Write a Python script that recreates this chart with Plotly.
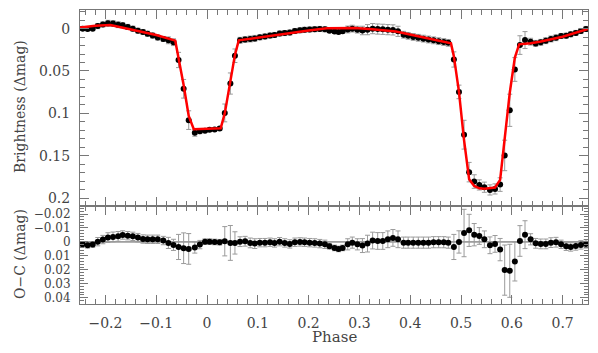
import plotly.graph_objects as go

# ---- data ----
phase = [-0.245, -0.235, -0.225, -0.215, -0.205, -0.195, -0.185, -0.175, -0.166, -0.156,
         -0.146, -0.136, -0.126, -0.117, -0.107, -0.097, -0.086, -0.076, -0.066, -0.056,
         -0.046, -0.036, -0.024, -0.014, -0.004, 0.005, 0.015, 0.025, 0.035, 0.046,
         0.055, 0.065, 0.075, 0.085, 0.094, 0.104, 0.114, 0.124, 0.133, 0.143,
         0.153, 0.163, 0.173, 0.183, 0.192, 0.202, 0.212, 0.222, 0.232, 0.241,
         0.251, 0.259, 0.267, 0.277, 0.286, 0.296, 0.306, 0.316, 0.326, 0.336,
         0.346, 0.356, 0.366, 0.376, 0.387, 0.396, 0.406, 0.416, 0.426, 0.436,
         0.446, 0.456, 0.466, 0.475, 0.486, 0.496, 0.506, 0.516, 0.526, 0.536,
         0.546, 0.557, 0.567, 0.577, 0.586, 0.596, 0.606, 0.616, 0.626, 0.637,
         0.647, 0.657, 0.667, 0.677, 0.687, 0.697, 0.707, 0.716, 0.726, 0.736, 0.746]

brightness = [0.0, 0.0004, 0.0, -0.003, -0.005, -0.0063, -0.006, -0.0047, -0.004, -0.002,
              0.0, 0.0024, 0.004, 0.006, 0.0082, 0.0105, 0.0122, 0.0138, 0.016, 0.037,
              0.071, 0.108, 0.123, 0.121, 0.1205, 0.1195, 0.119, 0.118, 0.0995, 0.0648,
              0.032, 0.0138, 0.0128, 0.0122, 0.0115, 0.0103, 0.0092, 0.0082, 0.0075, 0.0058,
              0.0052, 0.0046, 0.0028, 0.002, 0.0014, 0.001, 0.0006, 0.0004, 0.0008, 0.0025,
              0.0035, 0.004, 0.0032, 0.001, 0.0, 0.0012, 0.0022, 0.0012, 0.0, 0.0005,
              0.0008, 0.0012, 0.0015, 0.0032, 0.0072, 0.0085, 0.0098, 0.0108, 0.0118, 0.0128,
              0.0138, 0.0148, 0.0158, 0.0168, 0.0364, 0.0747, 0.1252, 0.1694, 0.1805, 0.1845,
              0.1872, 0.1904, 0.1892, 0.1841, 0.1497, 0.0964, 0.0482, 0.0194, 0.0135, 0.0154,
              0.0174, 0.0162, 0.0142, 0.0122, 0.0107, 0.0087, 0.0083, 0.0067, 0.0051, 0.0028, 0.0004]

residual = [0.0017, 0.0024, 0.0019, -0.0002, -0.0017, -0.0031, -0.0036, -0.004, -0.005, -0.0045,
            -0.004, -0.0031, -0.0021, -0.0019, -0.0019, -0.0019, -0.001, 0.0007, 0.0021, 0.0036,
            0.0045, 0.005, 0.004, 0.0019, -0.0002, -0.0002, 0.0, 0.0002, -0.0005, 0.0007,
            0.0007, -0.0002, -0.0005, 0.0007, 0.0012, 0.0005, 0.0005, 0.0002, 0.0007, -0.0002,
            0.0007, 0.0014, 0.0002, 0.0, 0.0002, 0.0005, 0.0007, 0.0012, 0.0017, 0.0031,
            0.0043, 0.005, 0.0043, 0.0017, 0.0005, 0.0017, 0.0026, 0.0012, -0.001, -0.0007,
            -0.0007, -0.0019, -0.0029, -0.0019, 0.0005, 0.0005, 0.0005, 0.0005, 0.0005, 0.0005,
            0.0002, 0.0002, 0.0002, 0.0005, 0.0036, 0.0, -0.0064, -0.0083, -0.0052, -0.0043,
            -0.0019, 0.0024, 0.0014, 0.0055, 0.0202, 0.0207, 0.014, -0.0007, -0.0052, -0.0019,
            0.001, 0.0014, 0.0014, 0.0005, 0.0002, 0.0017, 0.0031, 0.0036, 0.0029, 0.0021, 0.0014]

error = [0.002, 0.002, 0.002, 0.003, 0.003, 0.0035, 0.0035, 0.0035, 0.003, 0.003,
         0.003, 0.003, 0.003, 0.003, 0.003, 0.003, 0.003, 0.004, 0.004, 0.009,
         0.011, 0.011, 0.004, 0.003, 0.002, 0.002, 0.002, 0.002, 0.0105, 0.0125,
         0.008, 0.0035, 0.0035, 0.0035, 0.0035, 0.003, 0.003, 0.003, 0.003, 0.003,
         0.003, 0.003, 0.003, 0.003, 0.003, 0.003, 0.003, 0.003, 0.003, 0.002,
         0.002, 0.002, 0.002, 0.004, 0.004, 0.004, 0.005, 0.006, 0.006, 0.006,
         0.006, 0.006, 0.006, 0.006, 0.004, 0.004, 0.004, 0.004, 0.004, 0.004,
         0.004, 0.004, 0.004, 0.004, 0.009, 0.008, 0.017, 0.0115, 0.008, 0.006,
         0.006, 0.006, 0.006, 0.008, 0.018, 0.019, 0.014, 0.011, 0.01, 0.004,
         0.0035, 0.0035, 0.0035, 0.0035, 0.0035, 0.003, 0.003, 0.003, 0.003, 0.003, 0.003]

model_phase = [-0.25, -0.22, -0.19, -0.16, -0.13, -0.10, -0.0625, -0.056, -0.046, -0.036,
               -0.026, 0.0, 0.027, 0.035, 0.046, 0.055, 0.0625, 0.10, 0.15, 0.20,
               0.236, 0.29, 0.32, 0.372, 0.42, 0.474, 0.4803, 0.486, 0.496, 0.506,
               0.516, 0.526, 0.536, 0.546, 0.557, 0.567, 0.577, 0.586, 0.596, 0.606,
               0.6145, 0.637, 0.655, 0.70, 0.75]
model_mag = [-0.0012, -0.0035, -0.0043, -0.0005, 0.0035, 0.0075, 0.0142, 0.0334, 0.0665, 0.103,
             0.1188, 0.1182, 0.1175, 0.100, 0.064, 0.031, 0.0138, 0.0104, 0.0063, 0.0022,
             -0.0004, -0.0007, 0.0005, 0.0035, 0.0095, 0.0162, 0.0174, 0.0328, 0.0747, 0.1316,
             0.1777, 0.1857, 0.1885, 0.189, 0.188, 0.1875, 0.1786, 0.1295, 0.0757, 0.0342,
             0.0185, 0.0173, 0.0154, 0.0095, 0.0003]

x_ticks = [-0.2, -0.1, 0, 0.1, 0.2, 0.3, 0.4, 0.5, 0.6, 0.7]
x_labels = ["\u22120.2", "\u22120.1", "0", "0.1", "0.2", "0.3", "0.4", "0.5", "0.6", "0.7"]
top_ticks = [0, 0.05, 0.1, 0.15, 0.2]
top_labels = ["0", "0.05", "0.1", "0.15", "0.2"]
oc_ticks = [-0.02, -0.01, 0, 0.01, 0.02, 0.03, 0.04]
oc_labels = ["\u22120.02", "\u22120.01", "0", "0.01", "0.02", "0.03", "0.04"]

# ---- figure ----
FONT = "DejaVu Serif"
TXT = "#444444"
LINE = "#777777"

fig = go.Figure()

err_style = dict(type="data", visible=True, color="#9a9a9a", thickness=1, width=2.5)

fig.add_trace(go.Scatter(x=phase, y=brightness, mode="markers",
                         marker=dict(color="black", size=6),
                         error_y=dict(array=error, **err_style),
                         xaxis="x", yaxis="y", showlegend=False))
fig.add_trace(go.Scatter(x=model_phase, y=model_mag, mode="lines",
                         line=dict(color="#ff0000", width=2.5),
                         xaxis="x", yaxis="y", showlegend=False))
fig.add_trace(go.Scatter(x=phase, y=residual, mode="markers",
                         marker=dict(color="black", size=6),
                         error_y=dict(array=error, **err_style),
                         xaxis="x2", yaxis="y2", showlegend=False))

split = 0.3344
common_axis = dict(showline=True, linecolor=LINE, linewidth=1, mirror="allticks",
                   ticks="inside", tickcolor=LINE, showgrid=False, zeroline=False,
                   automargin=False)

# the page body adds an 8px offset, so the figure is 8px smaller each way
fig.update_layout(
    width=590, height=345,
    margin=dict(l=72, r=10, t=2, b=49, autoexpand=False),
    paper_bgcolor="white", plot_bgcolor="white",
    xaxis=dict(domain=[0, 1], anchor="y", range=[-0.25, 0.75], tickvals=x_ticks,
               ticklen=9, showticklabels=False,
               minor=dict(ticks="inside", dtick=0.02, tick0=0, ticklen=5, tickcolor=LINE),
               **common_axis),
    yaxis=dict(domain=[split, 1], anchor="x", range=[0.209, -0.022],
               tickvals=top_ticks, ticktext=top_labels,
               ticklen=9, ticklabelstandoff=6,
               tickfont=dict(family=FONT, size=14, color=TXT),
               minor=dict(ticks="inside", dtick=0.01, tick0=0, ticklen=5, tickcolor=LINE),
               **common_axis),
    xaxis2=dict(domain=[0, 1], anchor="y2", range=[-0.25, 0.75], tickvals=x_ticks,
                ticktext=x_labels, ticklen=9, ticklabelstandoff=6,
                tickfont=dict(family=FONT, size=14, color=TXT),
                minor=dict(ticks="inside", dtick=0.02, tick0=0, ticklen=5, tickcolor=LINE),
                **common_axis),
    yaxis2=dict(domain=[0, split], anchor="x2", range=[0.0445, -0.026],
                tickvals=oc_ticks, ticktext=oc_labels,
                ticklen=8, ticklabelstandoff=6,
                tickfont=dict(family=FONT, size=12, color=TXT),
                minor=dict(ticks="inside", dtick=0.002, tick0=0, ticklen=4, tickcolor=LINE),
                **common_axis),
)

# zero line of residual panel
fig.add_shape(type="line", xref="x2 domain", yref="y2", x0=0, x1=1, y0=0, y1=0,
              line=dict(color="#555555", width=1), layer="below")

W, H = 508, 294
fig.add_annotation(text="Brightness (\u0394mag)", xref="paper", yref="paper",
                   x=(20 - 80) / W, y=1 - (107 - 10) / H, textangle=-90,
                   showarrow=False, xanchor="center", yanchor="middle",
                   font=dict(family=FONT, size=14, color=TXT))
fig.add_annotation(text="O\u2212C (\u0394mag)", xref="paper", yref="paper",
                   x=(20 - 80) / W, y=1 - (254 - 10) / H, textangle=-90,
                   showarrow=False, xanchor="center", yanchor="middle",
                   font=dict(family=FONT, size=14, color=TXT))
fig.add_annotation(text="Phase", xref="paper", yref="paper",
                   x=(334 - 80) / W, y=1 - (337 - 10) / H,
                   showarrow=False, xanchor="center", yanchor="middle",
                   font=dict(family=FONT, size=15, color=TXT))

fig.write_html("out.html")
